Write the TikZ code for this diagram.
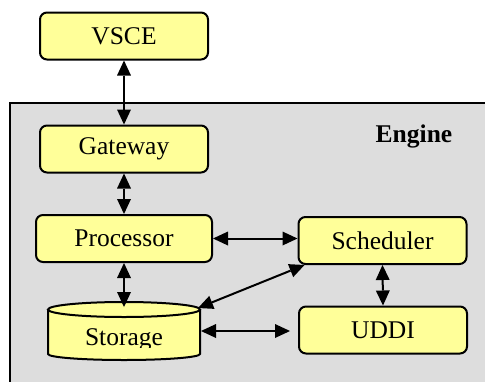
\documentclass[tikz,border=0pt]{standalone}
\usepackage{fontspec}
\setmainfont{Liberation Serif}
\usetikzlibrary{arrows.meta}
\definecolor{boxyellow}{HTML}{FFFF99}
\definecolor{enginegray}{HTML}{DDDDDD}
\tikzset{
  unit/.style={draw=black, line width=2pt, fill=boxyellow, rounded corners=7pt,
    minimum width=168pt, minimum height=47pt, inner sep=0pt,
    font=\fontsize{25.5}{28}\selectfont},
  tip/.tip={Triangle[length=15pt,width=14pt,line width=0pt]},
  link/.style={line width=2pt, tip-tip},
}
\begin{document}
\begin{tikzpicture}[x=1pt, y=-1pt]
  \useasboundingbox (0,0) rectangle (485,381);
  % engine container
  \fill[enginegray] (10,103) rectangle (495,395);
  \draw[line width=2pt] (10,395) -- (10,103) -- (495,103);
  \node[font=\bfseries\fontsize{25.5}{28}\selectfont] (engine) at (414,136) {Engine};

  % components
  \node[unit] (vsce)  at (124,36)    {VSCE};
  \node[unit] (gw)    at (124,149)   {Gateway};
  \node[unit, minimum width=176pt] (proc) at (124,238.5) {Processor};
  \node[unit] (sched) at (382.5,240.5) {Scheduler};
  \node[unit] (uddi)  at (383,330)   {UDDI};

  % storage cylinder
  \fill[boxyellow] (48,309.5) -- (48,354)
    arc[start angle=180, end angle=360, x radius=76pt, y radius=6pt]
    -- (200,309.5) -- cycle;
  \draw[line width=2pt] (48,309.5) -- (48,354)
    arc[start angle=180, end angle=360, x radius=76pt, y radius=6pt]
    -- (200,309.5);
  \draw[line width=2pt, fill=boxyellow] (124,309.5) ellipse[x radius=76pt, y radius=7.5pt];
  \begin{scope}
    \clip (48,318) rectangle (200,347);
    \node[anchor=base, font=\fontsize{25.5}{28}\selectfont, inner sep=0pt] (stor) at (124,345) {Storage};
  \end{scope}
  \coordinate (storTop)   at (124,307);
  \coordinate (storRim)   at (198,308);
  \coordinate (storSide)  at (201,331);

  % connectors
  \draw[link] (vsce.south) -- (gw.north);
  \draw[link] (gw.south) -- (proc.north);
  \draw[link] (proc.south) -- (storTop);
  \draw[link] (proc.east) -- (proc.east -| sched.west);
  \draw[link] (storRim) -- ([xshift=7pt]sched.south west);
  \draw[link, shorten >=8pt] (storSide) -- (storSide -| uddi.west);
  \draw[link] (sched.south) -- (uddi.north);
\end{tikzpicture}
\end{document}
